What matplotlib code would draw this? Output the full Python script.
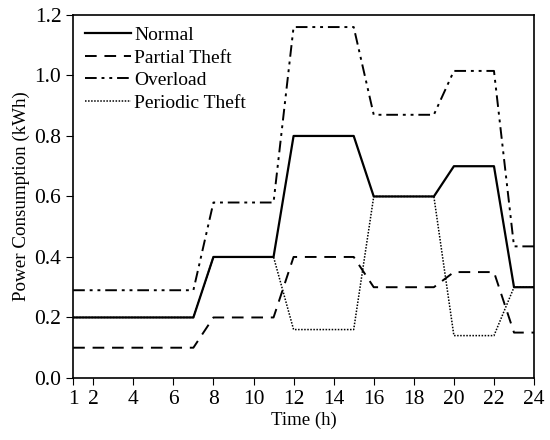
import matplotlib.pyplot as plt

plt.rcParams['font.family'] = ['Liberation Serif', 'DejaVu Serif']

hours = list(range(1, 25))
normal = [0.2]*7 + [0.4]*4 + [0.8]*4 + [0.6]*4 + [0.7]*3 + [0.3]*2
partial = [0.1]*7 + [0.2]*4 + [0.4]*4 + [0.3]*4 + [0.35]*3 + [0.15]*2
overload = [0.29]*7 + [0.58]*4 + [1.16]*4 + [0.87]*4 + [1.015]*3 + [0.435]*2
periodic = [0.2]*7 + [0.4]*4 + [0.16]*4 + [0.6]*4 + [0.14]*3 + [0.3]*2

xticks = [1, 2, 4, 6, 8, 10, 12, 14, 16, 18, 20, 22, 24]

fig = plt.figure(figsize=(5.5, 4.4), dpi=100)
ax = fig.add_axes([0.133, 0.141, 0.838, 0.825])

ax.plot(hours, normal, color='black', lw=1.6, linestyle='-', label='Normal')
ax.plot(hours, partial, color='black', lw=1.4, linestyle=(0, (6, 4)), label='Partial Theft')
ax.plot(hours, overload, color='black', lw=1.4, linestyle=(0, (6, 2.5, 1.5, 2.5, 1.5, 2.5)), label='Overload')
ax.plot(hours, periodic, color='black', lw=1.1, linestyle=(0, (1, 1)), label='Periodic Theft')

ax.set_xlim(1, 24)
ax.set_ylim(0, 1.2)
ax.set_xticks(xticks)
ax.set_yticks([0.0, 0.2, 0.4, 0.6, 0.8, 1.0, 1.2])
ax.set_yticklabels(['0.0', '0.2', '0.4', '0.6', '0.8', '1.0', '1.2'])
ax.tick_params(direction='out', labelsize=15.5, length=5)
for s in ax.spines.values():
    s.set_linewidth(1.2)

ax.set_xlabel('Time (h)', fontsize=13.5, labelpad=2)
ax.set_ylabel('Power Consumption (kWh)', fontsize=13.7, labelpad=3)

ax.legend(loc='upper left', frameon=False, fontsize=14, handlelength=2.4,
          handletextpad=0.15, labelspacing=0.25, borderaxespad=0.2)

fig.savefig('out.png', dpi=100)
